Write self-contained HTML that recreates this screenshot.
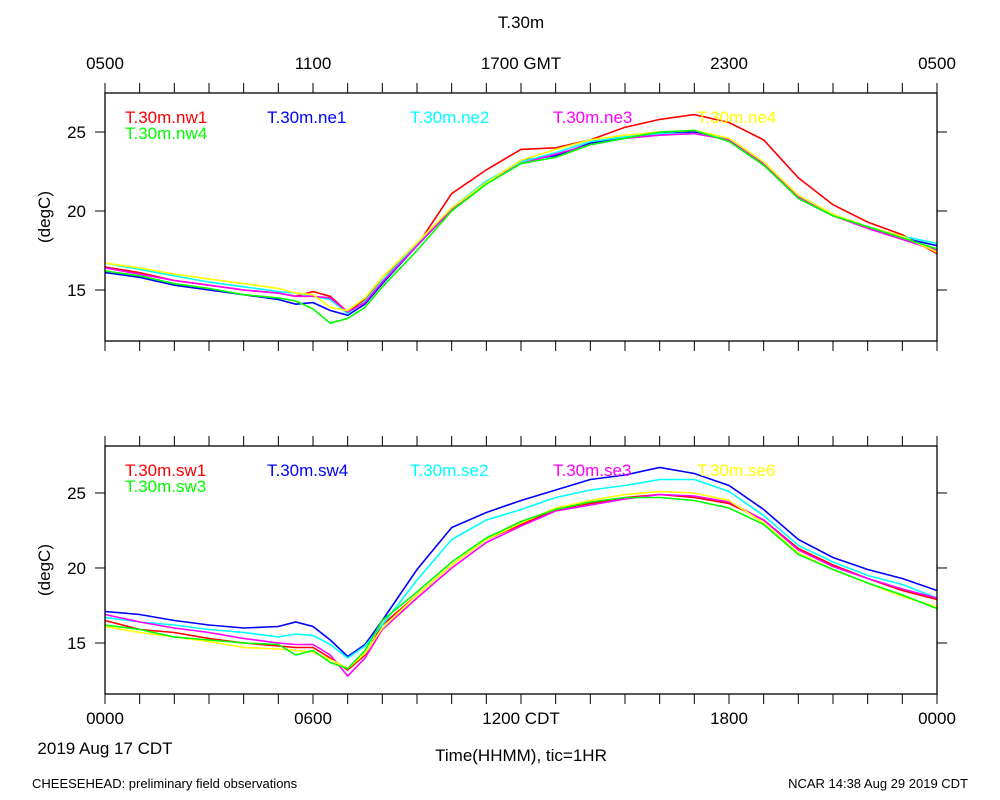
<!DOCTYPE html>
<html><head><meta charset="utf-8"><style>
body{margin:0;background:#fff}
svg{display:block;font-family:"Liberation Sans",sans-serif}
</style></head><body>
<svg id="c" width="1000" height="800"></svg>
<script>
const hours=[0,1,2,3,4,5,5.5,6,6.5,7,7.5,8,9,10,11,12,13,14,15,16,17,18,19,20,21,22,23,24];
const topNames=["T.30m.nw1","T.30m.ne1","T.30m.ne2","T.30m.ne3","T.30m.ne4","T.30m.nw4"];
const botNames=["T.30m.sw1","T.30m.sw4","T.30m.se2","T.30m.se3","T.30m.se6","T.30m.sw3"];
const nw1=[16.45,16.1,15.6,15.3,15.0,14.8,14.6,14.9,14.6,13.6,14.4,15.8,17.8,21.1,22.6,23.9,24.0,24.5,25.3,25.8,26.1,25.6,24.5,22.1,20.4,19.3,18.5,17.3];
const ne1=[16.1,15.8,15.3,15.0,14.7,14.4,14.1,14.2,13.7,13.4,14.1,15.4,17.8,20.1,21.8,23.2,23.5,24.3,24.6,24.9,25.0,24.5,23.0,20.8,19.7,19.0,18.3,17.8];
const ne2=[16.7,16.3,15.9,15.5,15.2,14.9,14.8,14.6,14.4,13.5,14.3,15.6,17.9,20.2,21.9,23.1,23.7,24.4,24.7,24.9,24.9,24.6,23.1,21.0,19.8,19.0,18.4,17.95];
const ne3=[16.4,16.0,15.6,15.3,15.0,14.8,14.6,14.6,14.5,13.6,14.2,15.5,17.8,20.1,21.8,23.0,23.6,24.2,24.6,24.8,24.9,24.5,23.0,20.9,19.7,18.9,18.2,17.5];
const ne4=[16.7,16.4,16.0,15.7,15.4,15.1,14.8,14.7,13.9,13.7,14.5,15.8,18.0,20.2,21.8,23.2,23.9,24.5,24.8,25.0,25.1,24.6,23.1,21.0,19.8,19.0,18.4,17.4];
const nw4=[16.2,15.9,15.4,15.1,14.7,14.5,14.3,13.8,12.9,13.2,13.9,15.2,17.5,20.0,21.7,23.0,23.4,24.2,24.6,25.0,25.1,24.4,22.9,20.8,19.7,19.0,18.3,17.6];
const sw1=[16.5,15.9,15.7,15.3,15.0,14.8,14.7,14.7,14.0,13.2,14.2,16.2,18.2,20.2,21.9,22.9,23.9,24.3,24.7,24.9,24.7,24.3,23.2,21.3,20.2,19.3,18.5,17.9];
const sw4=[17.1,16.9,16.5,16.2,16.0,16.1,16.4,16.1,15.2,14.1,14.9,16.5,19.9,22.7,23.7,24.5,25.2,25.9,26.2,26.7,26.3,25.5,23.9,21.9,20.7,19.9,19.3,18.5];
const se2=[16.7,16.4,16.2,15.9,15.7,15.4,15.6,15.5,14.9,14.0,14.8,16.2,19.2,21.9,23.2,23.9,24.7,25.2,25.5,25.9,25.9,25.1,23.5,21.5,20.4,19.5,18.9,18.0];
const se3=[16.9,16.4,16.0,15.7,15.3,15.0,14.9,14.9,14.2,12.8,14.0,15.9,18.0,20.0,21.7,22.8,23.8,24.2,24.6,24.9,24.8,24.4,23.2,21.2,20.1,19.3,18.6,18.0];
const se6=[16.1,15.7,15.4,15.1,14.7,14.6,14.5,14.4,13.9,13.3,14.3,16.0,18.2,20.2,21.9,23.0,24.0,24.5,24.9,25.1,25.0,24.5,23.0,21.0,19.9,19.0,18.1,17.4];
const sw3=[16.2,15.9,15.4,15.2,15.0,14.9,14.2,14.5,13.7,13.3,14.5,16.5,18.4,20.4,22.0,23.1,23.9,24.4,24.7,24.7,24.5,24.0,22.9,20.9,19.9,19.0,18.2,17.3];
const topSeries=[nw1,ne1,ne2,ne3,ne4,nw4];
const botSeries=[sw1,sw4,se2,se3,se6,sw3];
const colors=["#ff0000","#0000ff","#00ffff","#ff00ff","#ffff00","#00ff00"];
const yTicks=[15,20,25];
const topXLabels=["0500","1100","1700 GMT","2300","0500"];
const botXLabels=["0000","0600","1200 CDT","1800","0000"];
const svg=document.getElementById('c');
const NS="http://www.w3.org/2000/svg";
function mk(tag,attrs,parent){const e=document.createElementNS(NS,tag);for(const k in attrs)e.setAttribute(k,attrs[k]);(parent||svg).appendChild(e);return e;}
const X0=105,X1=937;
function xs(h){return X0+(X1-X0)*h/24;}
function txt(s,x,y,size,anchor,fill,name){const t=mk('text',{x:x,y:y,'font-size':size,'text-anchor':anchor,fill:fill||'#000'});t.textContent=s;return t;}
function panel(top,bot,tTop,tBot,names,series,pname){
  const g=mk('g',{});
  
  
  const ys=v=>bot-(v-tBot)*(bot-top)/(tTop-tBot);
  for(let h=0;h<=24;h++){
    const L=(h%6==0)?10:10;
    mk('line',{x1:xs(h),x2:xs(h),y1:top,y2:top-L,stroke:'#000','stroke-width':1},g);
    mk('line',{x1:xs(h),x2:xs(h),y1:bot,y2:bot+L,stroke:'#000','stroke-width':1},g);
  }
  yTicks.forEach(v=>{
    mk('line',{x1:X0,x2:X0-10,y1:ys(v),y2:ys(v),stroke:'#000'},g);
    mk('line',{x1:X1,x2:X1+10,y1:ys(v),y2:ys(v),stroke:'#000'},g);
    txt(String(v),86,ys(v)+6,17,'end','#000','y-tick-label');
  });
  series.forEach((s,i)=>{
    const d=s.map((v,j)=>(j?'L':'M')+xs(hours[j]).toFixed(1)+','+ys(v).toFixed(1)).join(' ');
    const p=mk('path',{d:d,fill:'none',stroke:colors[i],'stroke-width':1.6},g);
    
    
  });
  mk('rect',{x:X0,y:top,width:X1-X0,height:bot-top,fill:'none',stroke:'#000','stroke-width':1.3},g);
  const lx=[125,267,410,553,697,125];
  names.forEach((n,i)=>{txt(n,lx[i],top+(i==5?46:30),17,'start',colors[i],'legend-entry');});
  const yl=txt('(degC)',0,0,17,'middle','#000','y-axis-title');
  yl.setAttribute('transform','translate(50,'+((top+bot)/2)+') rotate(-90)');
}
panel(93,341,27.47,11.77,topNames,topSeries,'top-panel');
panel(446,694,28.13,11.6,botNames,botSeries,'bottom-panel');
txt('T.30m',521,28,17,'middle','#000','chart-title');
topXLabels.forEach((s,i)=>txt(s,xs(i*6),69,17,'middle','#000','top-x-tick-label'));
botXLabels.forEach((s,i)=>txt(s,xs(i*6),724,17,'middle','#000','bottom-x-tick-label'));
txt('2019 Aug 17 CDT',105,754,17,'middle','#000','date-label');
txt('Time(HHMM), tic=1HR',521,761,17,'middle','#000','x-axis-title');
txt('CHEESEHEAD: preliminary field observations',32,788,13,'start','#000','footer-left');
txt('NCAR 14:38 Aug 29 2019 CDT',968,788,13,'end','#000','footer-right');
</script>
</body></html>
